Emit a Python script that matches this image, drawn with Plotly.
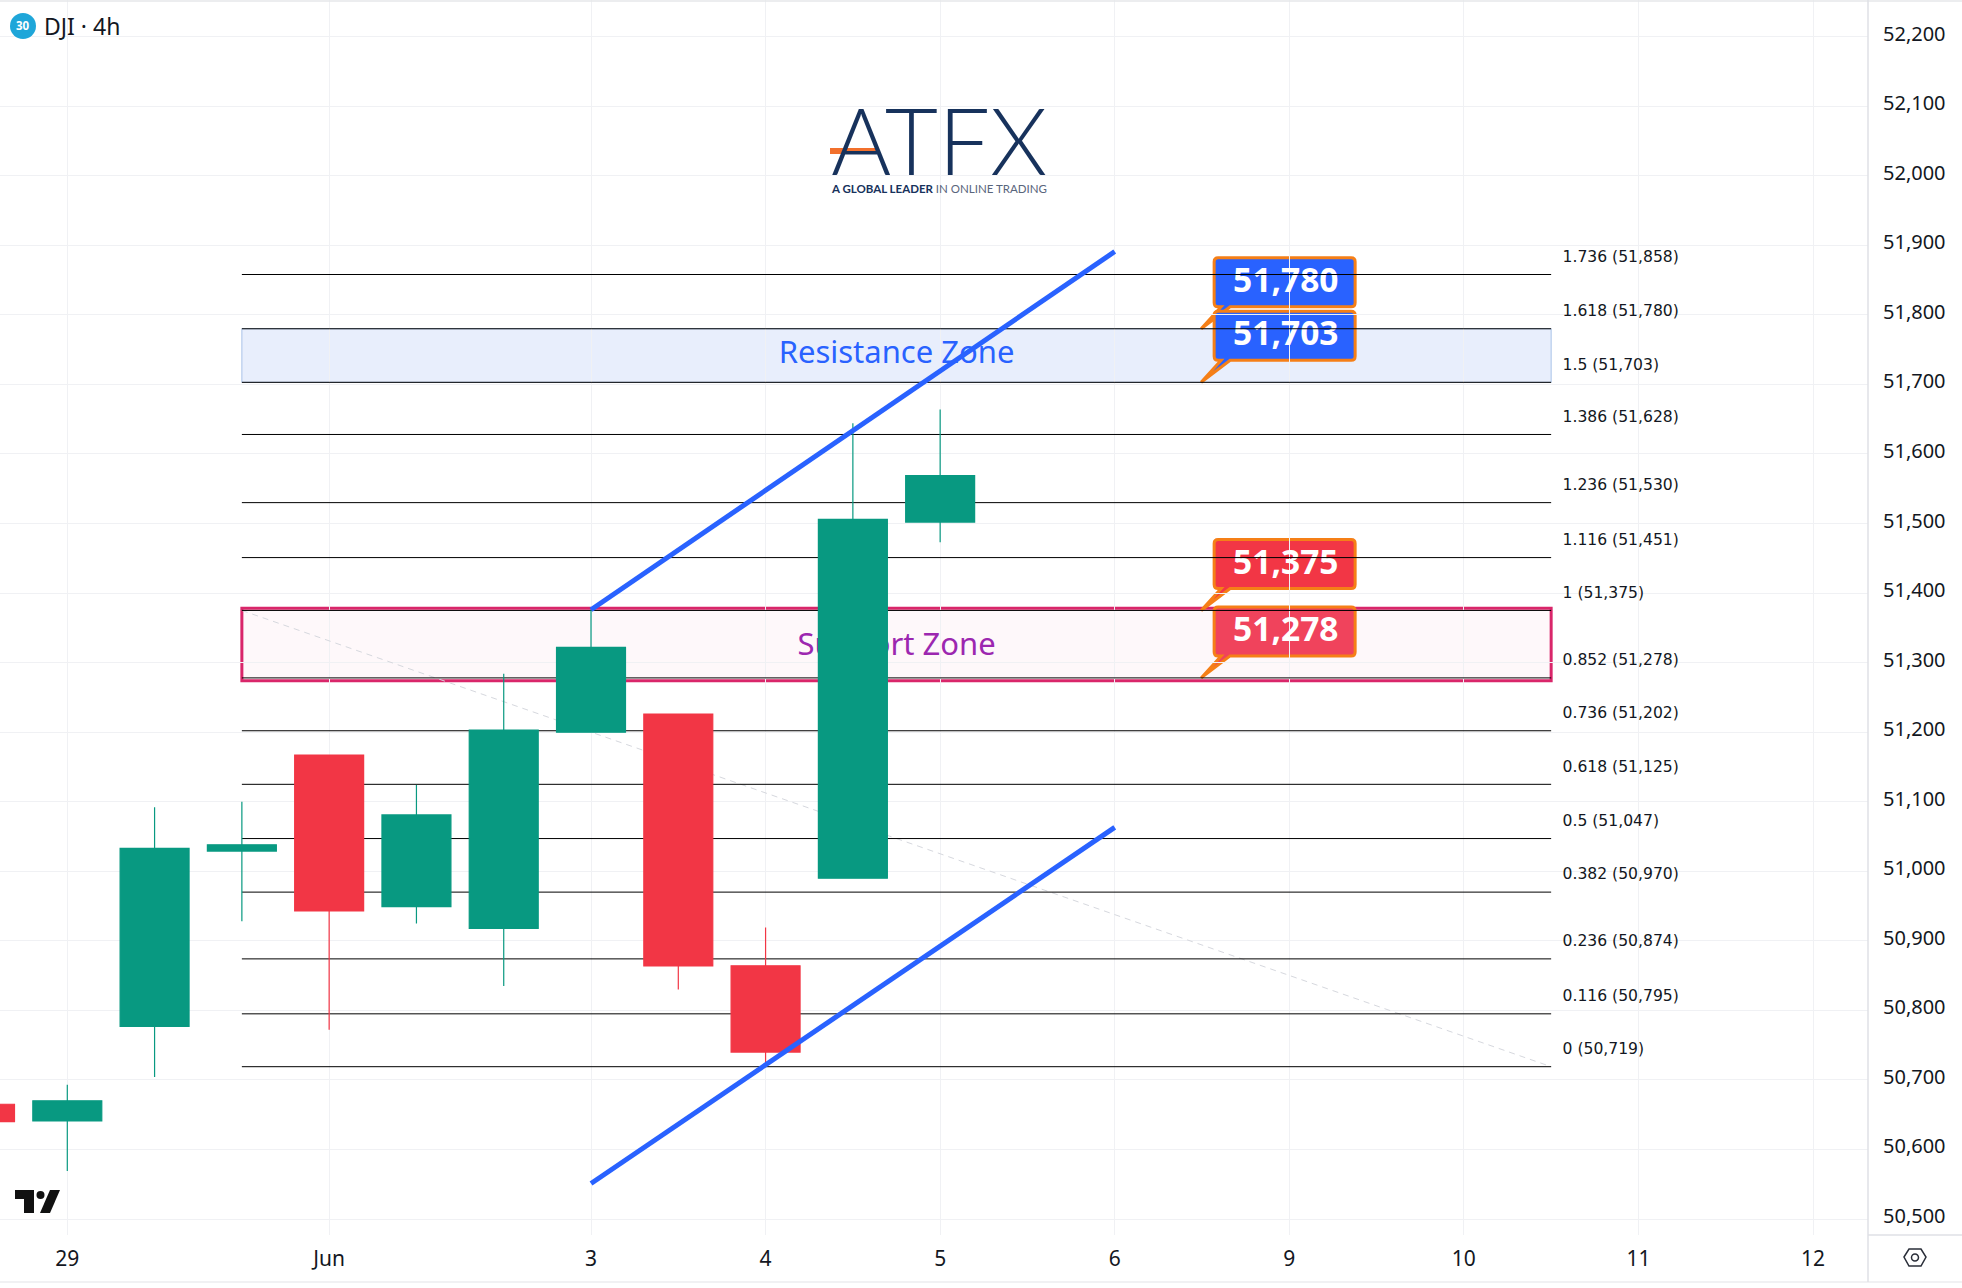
import plotly.graph_objects as go

# ---- data -------------------------------------------------------------
candle_idx = [-1, 0, 1, 2, 3, 4, 5, 6, 7, 8, 9, 10]
opens  = [50665, 50641, 50777, 51029, 51167, 50949, 50918, 51200, 51226, 50864, 50990, 51502]
highs  = [50665, 50693, 51092, 51100, 51167, 51124, 51284, 51376, 51226, 50919, 51644, 51664]
lows   = [50640, 50569, 50704, 50928, 50772, 50925, 50835, 51200, 50830, 50720, 50990, 51473]
closes = [50640, 50670, 51033, 51038, 50943, 51081, 51203, 51322, 50864, 50740, 51506, 51569]

fib_ratios = ["1.736", "1.618", "1.5", "1.386", "1.236", "1.116", "1", "0.852",
              "0.736", "0.618", "0.5", "0.382", "0.236", "0.116", "0"]
fib_levels = [51858, 51780, 51703, 51628, 51530, 51451, 51375, 51278,
              51202, 51125, 51047, 50970, 50874, 50795, 50719]
fib_start, fib_end = 2, 17
fib_label_x = 17.13
fib_label_lift = 24

upper_channel_x, upper_channel_y = [6, 12], [51376, 51891]
lower_channel_x, lower_channel_y = [6, 12], [50551, 51063]
diagonal_x, diagonal_y = [2, 17], [51375, 50719]

resistance_zone = [51703, 51780]
support_zone = [51274, 51378]

callout_values = [51780, 51703, 51375, 51278]
callout_colors = ["#2962ff", "#2962ff", "#f23645", "#f0435c"]
callout_x = 12.99

x_tick_vals = [0, 3, 6, 8, 10, 12, 14, 16, 18, 20]
x_tick_text = ["29", "Jun", "3", "4", "5", "6", "9", "10", "11", "12"]
y_tick_vals = [52200, 52100, 52000, 51900, 51800, 51700, 51600, 51500, 51400,
               51300, 51200, 51100, 51000, 50900, 50800, 50700, 50600, 50500]

# ---- layout constants -------------------------------------------------
W, H = 1962, 1288
PW, PH = 1868, 1235
GREEN, RED, BLUE = "#089981", "#f23645", "#2962ff"
INK = "#131722"
GRID = "#f0f1f4"
AXIS = "#dfe1e6"
UI = "Noto Sans"


def px(x):
    return x / PW


def py(y):
    return 1 - y / PH


def pth(points, close=True):
    s = "M" + " L".join(f"{px(a):.5f} {py(b):.5f}" for a, b in points)
    return s + (" Z" if close else "")


fig = go.Figure()

# dashed diagonal of the fibonacci tool
fig.add_trace(go.Scatter(x=diagonal_x, y=diagonal_y, mode="lines", zorder=0,
                         line=dict(color="#d6d8de", width=1, dash="6px,5px"), hoverinfo="skip"))

# zone captions and callout values, beneath the fib lines
fig.add_trace(go.Scatter(x=[9.5], y=[sum(resistance_zone) / 2], mode="text", text=["Resistance Zone"], zorder=1,
                         textfont=dict(family=UI, size=31, color=BLUE), hoverinfo="skip"))
fig.add_trace(go.Scatter(x=[9.5], y=[sum(support_zone) / 2 - 4], mode="text", text=["Support Zone"], zorder=1,
                         textfont=dict(family=UI, size=31, color="#9c27b0"), hoverinfo="skip"))
fig.add_trace(go.Scatter(x=[13.96] * 4, y=[v + 65 for v in callout_values], mode="text",
                         text=[f"{v:,}" for v in callout_values], zorder=1,
                         textfont=dict(family=UI, size=33.5, color="white", weight=700), hoverinfo="skip"))

# fibonacci levels
for lv in fib_levels:
    fig.add_trace(go.Scatter(x=[fib_start, fib_end], y=[lv, lv], mode="lines", zorder=2,
                             line=dict(color="#000000", width=1), hoverinfo="skip"))
fig.add_trace(go.Scatter(x=[fib_label_x] * len(fib_levels), y=[v + fib_label_lift for v in fib_levels],
                         mode="text", textposition="middle right", zorder=2,
                         text=[f"{r} ({v:,})" for r, v in zip(fib_ratios, fib_levels)],
                         textfont=dict(family="DejaVu Sans", size=15.6, color=INK), hoverinfo="skip"))

# candles
fig.add_trace(go.Candlestick(x=candle_idx, open=opens, high=highs, low=lows, close=closes, zorder=3,
                             whiskerwidth=0,
                             increasing=dict(line=dict(color=GREEN, width=1.2), fillcolor=GREEN),
                             decreasing=dict(line=dict(color=RED, width=1.2), fillcolor=RED),
                             hoverinfo="skip"))

# channel
for xs, ys in [(upper_channel_x, upper_channel_y), (lower_channel_x, lower_channel_y)]:
    fig.add_trace(go.Scatter(x=xs, y=ys, mode="lines", zorder=4,
                             line=dict(color=BLUE, width=5), hoverinfo="skip"))

shapes = []
# zones
shapes.append(dict(type="rect", layer="below", xref="x", yref="y", x0=fib_start, x1=fib_end,
                   y0=resistance_zone[0], y1=resistance_zone[1],
                   fillcolor="#e8eefc", line=dict(color="#a9c3e8", width=1)))
shapes.append(dict(type="rect", layer="below", xref="x", yref="y", x0=fib_start, x1=fib_end,
                   y0=support_zone[0], y1=support_zone[1],
                   fillcolor="#fef8fa", line=dict(color="#d9266a", width=3)))
# callouts: pixel-sized, anchored at their price
callout_path = ("M 0 0 L 20 22 L 17 22 Q 13 22 13 26 L 13 67 Q 13 71 17 71 L 150 71 "
                "Q 154 71 154 67 L 154 26 Q 154 22 150 22 L 29 22 Z")
for v, c in zip(callout_values, callout_colors):
    shapes.append(dict(type="path", layer="below", xref="x", yref="y",
                       xsizemode="pixel", ysizemode="pixel", xanchor=callout_x, yanchor=v,
                       path=callout_path, fillcolor=c, line=dict(color="#f57f17", width=3)))
# frame lines
for p, col in [([(0, 1), (W, 1)], "#e6e7ea"), ([(0, 1282), (W, 1282)], "#ececef"),
               ([(PW, 0), (PW, 1282)], AXIS), ([(PW, 1235), (W, 1235)], AXIS)]:
    shapes.append(dict(type="path", xref="paper", yref="paper", path=pth(p, False), line=dict(color=col, width=1.5)))
# symbol badge
shapes.append(dict(type="circle", xref="paper", yref="paper", x0=px(10), x1=px(36), y0=py(39), y1=py(13),
                   fillcolor="#1fa6d9", line=dict(width=0)))
# ATFX orange stroke
shapes.append(dict(type="line", xref="paper", yref="paper", x0=px(830), x1=px(876), y0=py(151), y1=py(151),
                   line=dict(color="#f2702c", width=6)))
# TradingView mark
shapes.append(dict(type="path", xref="paper", yref="paper", line=dict(width=0), fillcolor="#111111",
                   path=pth([(15, 1190), (34, 1190), (34, 1213), (24, 1213), (24, 1199), (15, 1199)])))
shapes.append(dict(type="circle", xref="paper", yref="paper", line=dict(width=0), fillcolor="#111111",
                   x0=px(36.5), x1=px(44.5), y0=py(1199), y1=py(1191)))
shapes.append(dict(type="path", xref="paper", yref="paper", line=dict(width=0), fillcolor="#111111",
                   path=pth([(50, 1190), (60, 1190), (50, 1213), (40, 1213)])))
# settings icon
shapes.append(dict(type="path", xref="paper", yref="paper", fillcolor="rgba(0,0,0,0)",
                   line=dict(color="#2a2e39", width=1.5),
                   path=pth([(1904, 1257), (1909, 1249), (1921, 1249), (1926, 1257), (1921, 1266), (1909, 1266)])))
shapes.append(dict(type="circle", xref="paper", yref="paper", fillcolor="rgba(0,0,0,0)",
                   line=dict(color="#2a2e39", width=1.5), x0=px(1911.5), x1=px(1918.5), y0=py(1261), y1=py(1254)))

annotations = [
    dict(xref="paper", yref="paper", x=px(23), y=py(26), xanchor="center", yanchor="middle",
         text="<b>30</b>", showarrow=False, font=dict(family=UI, size=11.5, color="white")),
    dict(xref="paper", yref="paper", x=px(42), y=py(26), xanchor="left", yanchor="middle",
         text="DJI · 4h", showarrow=False, font=dict(family=UI, size=23, color=INK)),
    dict(xref="paper", yref="paper", x=px(939.5), y=py(140), xanchor="center", yanchor="middle",
         text="ATFX", showarrow=False, font=dict(family="Lato", size=92, color="#17325c", weight=300)),
    dict(xref="paper", yref="paper", x=px(939.5), y=py(188), xanchor="center", yanchor="middle",
         text='<b><span style="color:#17325c">A GLOBAL LEADER</span></b> IN ONLINE TRADING', showarrow=False,
         font=dict(family="Lato", size=11.5, color="#59657c")),
]

fig.update_layout(
    width=W, height=H, autosize=False,
    margin=dict(l=0, r=W - PW, t=0, b=H - PH, pad=0),
    paper_bgcolor="white", plot_bgcolor="white",
    showlegend=False, boxgap=0.21, boxgroupgap=0,
    shapes=shapes, annotations=annotations,
    xaxis=dict(range=[-0.771, 20.63], rangeslider=dict(visible=False), tickmode="array",
               tickvals=x_tick_vals, ticktext=x_tick_text, showgrid=True, gridcolor=GRID, gridwidth=1,
               zeroline=False, showline=True, linecolor=AXIS, linewidth=1.5, ticks="", ticklabelstandoff=4,
               tickfont=dict(family=UI, size=21, color=INK)),
    yaxis=dict(range=[50477, 52252.7], side="right", tickmode="array", tickvals=y_tick_vals,
               tickformat=",d", showgrid=True, gridcolor=GRID, gridwidth=1, zeroline=False,
               showline=False, ticks="", ticklabelstandoff=14, ticklabelshift=-3,
               tickfont=dict(family=UI, size=20, color=INK)),
)

fig.write_html("out.html", config=dict(displayModeBar=False),
               post_script="document.body.style.margin='0';")
